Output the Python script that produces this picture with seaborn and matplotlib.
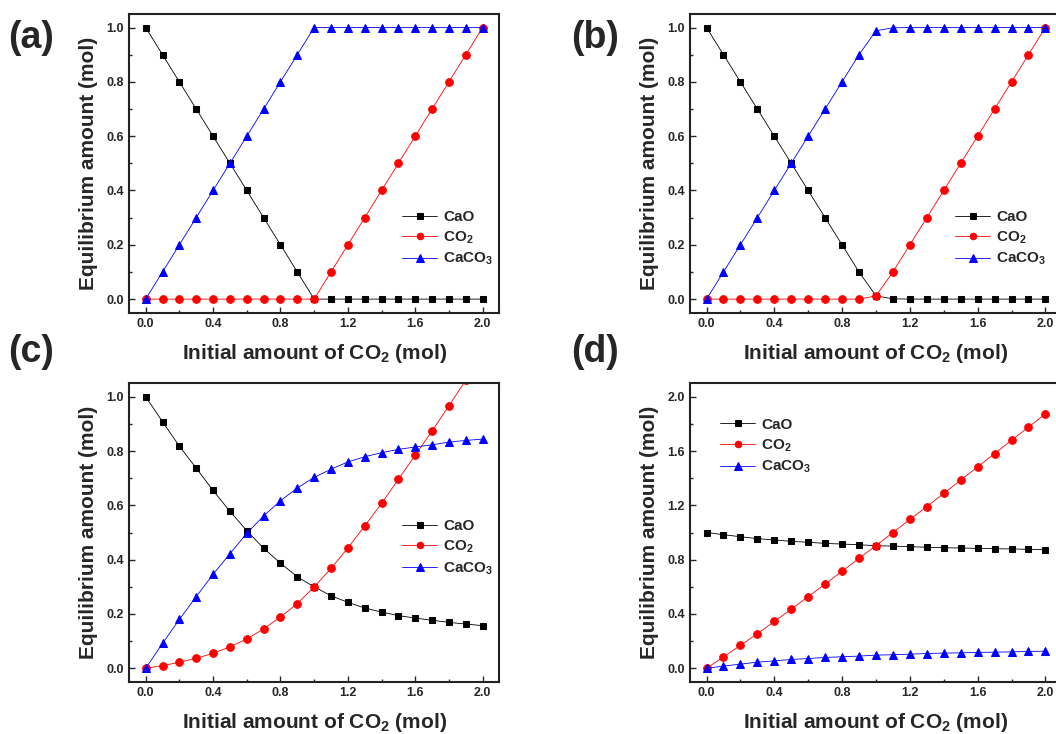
import numpy as np
import matplotlib
matplotlib.use("Agg")
import matplotlib.pyplot as plt
from matplotlib.ticker import MultipleLocator
import seaborn as sns

# initial CO2 (mol), same grid for all four panels
x_co2 = [0.0, 0.1, 0.2, 0.3, 0.4, 0.5, 0.6, 0.7, 0.8, 0.9, 1.0,
         1.1, 1.2, 1.3, 1.4, 1.5, 1.6, 1.7, 1.8, 1.9, 2.0]

# (a)
a_cao = [1.0, 0.9, 0.8, 0.7, 0.6, 0.5, 0.4, 0.3, 0.2, 0.1, 0.0,
         0.0, 0.0, 0.0, 0.0, 0.0, 0.0, 0.0, 0.0, 0.0, 0.0]
a_co2 = [0.0, 0.0, 0.0, 0.0, 0.0, 0.0, 0.0, 0.0, 0.0, 0.0, 0.0,
         0.1, 0.2, 0.3, 0.4, 0.5, 0.6, 0.7, 0.8, 0.9, 1.0]
a_caco3 = [0.0, 0.1, 0.2, 0.3, 0.4, 0.5, 0.6, 0.7, 0.8, 0.9, 1.0,
           1.0, 1.0, 1.0, 1.0, 1.0, 1.0, 1.0, 1.0, 1.0, 1.0]

# (b)
b_cao = [1.0, 0.9, 0.8, 0.7, 0.6, 0.5, 0.4, 0.3, 0.2, 0.1, 0.012,
         0.001, 0.0, 0.0, 0.0, 0.0, 0.0, 0.0, 0.0, 0.0, 0.0]
b_co2 = [0.0, 0.0, 0.0, 0.0, 0.0, 0.0, 0.0, 0.0, 0.0, 0.0, 0.012,
         0.1, 0.2, 0.3, 0.4, 0.5, 0.6, 0.7, 0.8, 0.9, 1.0]
b_caco3 = [0.0, 0.1, 0.2, 0.3, 0.4, 0.5, 0.6, 0.7, 0.8, 0.9, 0.988,
           0.999, 1.0, 1.0, 1.0, 1.0, 1.0, 1.0, 1.0, 1.0, 1.0]

# (c)
c_cao = [1.0, 0.908, 0.818, 0.737, 0.655, 0.578, 0.507, 0.442, 0.387, 0.337, 0.300,
         0.267, 0.243, 0.222, 0.207, 0.194, 0.185, 0.177, 0.169, 0.163, 0.157]
c_co2 = [0.0, 0.010, 0.022, 0.037, 0.055, 0.079, 0.108, 0.145, 0.189, 0.238, 0.300,
         0.368, 0.443, 0.524, 0.607, 0.696, 0.785, 0.874, 0.967, 1.061, 1.156]
c_caco3 = [0.0, 0.092, 0.180, 0.264, 0.346, 0.422, 0.497, 0.561, 0.617, 0.664, 0.703,
           0.733, 0.760, 0.779, 0.794, 0.806, 0.815, 0.823, 0.833, 0.839, 0.844]

# (d)
d_cao = [1.0, 0.984, 0.969, 0.955, 0.945, 0.935, 0.928, 0.920, 0.915, 0.910, 0.903,
         0.900, 0.896, 0.891, 0.888, 0.886, 0.883, 0.881, 0.879, 0.876, 0.874]
d_co2 = [0.0, 0.084, 0.169, 0.255, 0.345, 0.435, 0.528, 0.620, 0.715, 0.810, 0.903,
         1.0, 1.096, 1.191, 1.288, 1.386, 1.483, 1.581, 1.679, 1.776, 1.874]
d_caco3 = [0.0, 0.016, 0.031, 0.045, 0.055, 0.065, 0.072, 0.080, 0.085, 0.090, 0.097,
           0.100, 0.104, 0.109, 0.112, 0.114, 0.117, 0.119, 0.121, 0.124, 0.126]

sns.set_style("ticks")
plt.rcParams["font.family"] = ["Liberation Sans", "DejaVu Sans"]
plt.rcParams["font.weight"] = "bold"
plt.rcParams["mathtext.fontset"] = "custom"
plt.rcParams["mathtext.rm"] = "Liberation Sans:bold"
plt.rcParams["mathtext.it"] = "Liberation Sans:bold"
plt.rcParams["mathtext.bf"] = "Liberation Sans:bold"
plt.rcParams["mathtext.default"] = "rm"
plt.rcParams["xtick.direction"] = "in"
plt.rcParams["ytick.direction"] = "in"

fig = plt.figure(figsize=(10.56, 7.34), dpi=100)

panels = [
    ("(a)", [0.122, 0.574, 0.351, 0.407], a_cao, a_co2, a_caco3, 1.05, 0.2, (0.70, 0.39)),
    ("(b)", [0.653, 0.574, 0.353, 0.407], b_cao, b_co2, b_caco3, 1.05, 0.2, (0.675, 0.39)),
    ("(c)", [0.122, 0.071, 0.351, 0.407], c_cao, c_co2, c_caco3, 1.05, 0.2, (0.70, 0.59)),
    ("(d)", [0.653, 0.071, 0.353, 0.407], d_cao, d_co2, d_caco3, 2.1, 0.4, (0.045, 0.93)),
]
label_pos = {"(a)": (0.008, 0.948), "(b)": (0.541, 0.948),
             "(c)": (0.008, 0.521), "(d)": (0.541, 0.521)}

for tag, pos, cao, co2, caco3, ytop, ystep, lg in panels:
    ax = fig.add_axes(pos)
    sns.lineplot(x=x_co2, y=cao, ax=ax, color="black", marker="s", markersize=5,
                 markeredgecolor="black", linewidth=0.6, label="CaO")
    sns.lineplot(x=x_co2, y=co2, ax=ax, color="red", marker="o", markersize=5.5,
                 markeredgecolor="red", linewidth=0.6, label="CO$_2$")
    sns.lineplot(x=x_co2, y=caco3, ax=ax, color="blue", marker="^", markersize=6,
                 markeredgecolor="blue", linewidth=0.6, label="CaCO$_3$")
    ax.set_xlim(-0.1, 2.1)
    ax.set_ylim(-ytop * 0.05 / 1.05, ytop)
    ax.xaxis.set_major_locator(MultipleLocator(0.4))
    ax.xaxis.set_minor_locator(MultipleLocator(0.2))
    ax.yaxis.set_major_locator(MultipleLocator(ystep))
    ax.yaxis.set_minor_locator(MultipleLocator(ystep / 2))
    ax.xaxis.set_major_formatter(lambda v, p: f"{v:.1f}")
    ax.yaxis.set_major_formatter(lambda v, p: f"{v:.1f}")
    ax.tick_params(which="major", length=4, width=1, labelsize=9)
    ax.tick_params(which="minor", length=2.5, width=1)
    for s in ax.spines.values():
        s.set_linewidth(1.5)
        s.set_color("#222222")
        s.set_visible(True)
    ax.set_xlabel("Initial amount of CO$_2$ (mol)", fontsize=15, fontweight="bold", labelpad=9)
    ax.set_ylabel("Equilibrium amount (mol)", fontsize=15, fontweight="bold", labelpad=6)
    ax.legend(loc="upper left", bbox_to_anchor=lg, frameon=False, fontsize=11,
              handlelength=2.3, handletextpad=0.4, labelspacing=0.35, markerscale=0.85)
    fig.text(label_pos[tag][0], label_pos[tag][1], tag, fontsize=27, fontweight="bold",
             va="center", ha="left")

fig.savefig("out.png", dpi=100)
